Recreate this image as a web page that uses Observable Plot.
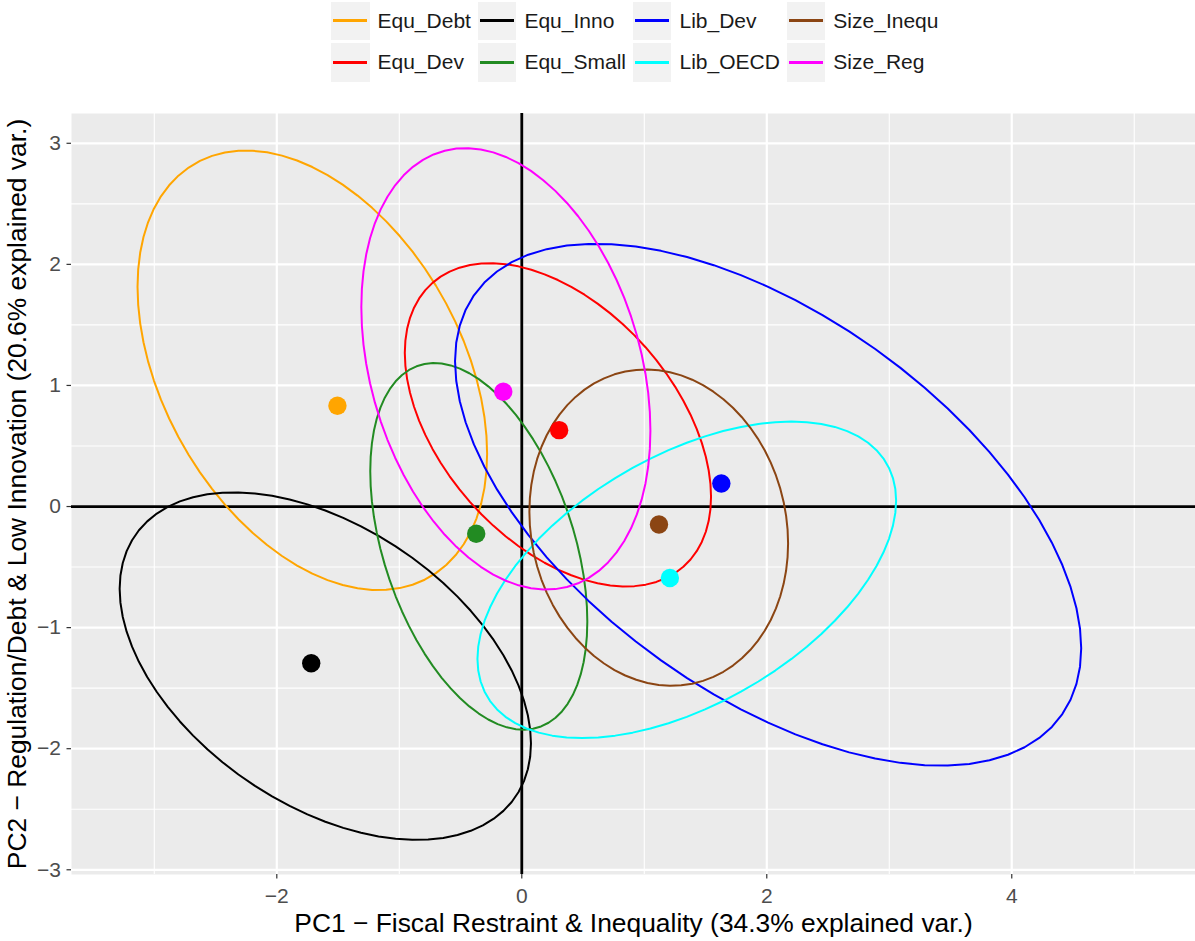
<!DOCTYPE html>
<html><head><meta charset="utf-8">
<script src="https://cdn.jsdelivr.net/npm/d3@7"></script>
<script src="https://cdn.jsdelivr.net/npm/@observablehq/plot@0.6"></script>
<style>
body{margin:0;background:#fff;font-family:"Liberation Sans",Arial,sans-serif;}
#wrap{position:relative;width:1195px;height:941px;overflow:hidden;background:#fff;}
#legend{position:absolute;left:331px;top:1.5px;display:grid;grid-template-rows:38.5px 38.5px;row-gap:3px;grid-auto-flow:column;grid-auto-columns:auto;}
.item{display:flex;align-items:center;}
.key{width:38.5px;height:38.5px;background:#f2f2f2;display:flex;align-items:center;justify-content:center;flex:none;}
.key span{display:block;width:34px;height:2.8px;}
.lab{font-size:21px;color:#1a1a1a;margin-left:8px;padding-right:7px;white-space:nowrap;}
#chart{position:absolute;left:0;top:88px;}
</style></head><body>
<div id="wrap"><div id="legend"></div><div id="chart"></div></div>
<script>
// Groups and colours
const groups = ["Equ_Debt","Equ_Dev","Equ_Inno","Equ_Small","Lib_Dev","Lib_OECD","Size_Inequ","Size_Reg"];
const colors = ["#FFA500","#FF0000","#000000","#228B22","#0000FF","#00FFFF","#8B4513","#FF00FF"];

// Group centroid points (PC1, PC2)
const pointX = [-1.505, 0.305, -1.719, -0.372, 1.629, 1.209, 1.12, -0.151];
const pointY = [0.832, 0.631, -1.294, -0.225, 0.19, -0.59, -0.148, 0.948];

// Ellipse parameters: centre, half-width (x), half-height (y), correlation
const ellCX = [-1.71, 0.295, -1.604, -0.351, 2.011, 1.347, 1.118, -0.13];
const ellCY = [1.125, 0.675, -1.318, -0.329, 0.015, -0.605, -0.174, 1.137];
const ellSX = [1.427, 1.25, 1.679, 0.886, 2.556, 1.709, 1.056, 1.18];
const ellSY = [1.815, 1.335, 1.435, 1.514, 2.155, 1.307, 1.306, 1.823];
const ellR  = [-0.38, -0.445, -0.445, -0.41, -0.55, 0.50, -0.10, -0.28];

// Axis ticks
const xMajor = [-2, 0, 2, 4];
const xMinor = [-3, -1, 1, 3, 5];
const yMajor = [-3, -2, -1, 0, 1, 2, 3];
const yMinor = [-2.5, -1.5, -0.5, 0.5, 1.5, 2.5];
const tickFmt = d => (d < 0 ? "\u2212" + Math.abs(d) : String(d));

const xTitle = "PC1 \u2212 Fiscal Restraint & Inequality (34.3% explained var.)";
const yTitle = "PC2 \u2212 Regulation/Debt & Low Innovation (20.6% explained var.)";

const points = groups.map((g, i) => ({group: g, x: pointX[i], y: pointY[i]}));
const nSeg = 72;
const ellipseRows = groups.flatMap((g, i) => d3.range(nSeg + 1).map(k => {
  const t = 2 * Math.PI * k / nSeg;
  return {
    group: g,
    x: ellCX[i] + ellSX[i] * Math.cos(t),
    y: ellCY[i] + ellSY[i] * (ellR[i] * Math.cos(t) + Math.sqrt(1 - ellR[i] * ellR[i]) * Math.sin(t))
  };
}));

// Legend
const legend = document.getElementById("legend");
groups.forEach((g, i) => {
  const item = document.createElement("div");
  item.className = "item";
  item.innerHTML = `<div class="key"><span style="background:${colors[i]}"></span></div><div class="lab">${g}</div>`;
  legend.appendChild(item);
});

const chart = Plot.plot({
  width: 1195, height: 853,
  marginLeft: 71, marginRight: 0, marginTop: 25, marginBottom: 67,
  x: {domain: [-3.676, 5.5]},
  y: {domain: [-3.039, 3.246]},
  color: {domain: groups, range: colors},
  style: {fontFamily: "'Liberation Sans', Arial, sans-serif", background: "white", overflow: "visible"},
  marks: [
    Plot.frame({fill: "#ebebeb", stroke: null}),
    Plot.gridX(xMinor, {stroke: "white", strokeOpacity: 1, strokeWidth: 1.1}),
    Plot.gridY(yMinor, {stroke: "white", strokeOpacity: 1, strokeWidth: 1.1}),
    Plot.gridX(xMajor, {stroke: "white", strokeOpacity: 1, strokeWidth: 2.2}),
    Plot.gridY(yMajor, {stroke: "white", strokeOpacity: 1, strokeWidth: 2.2}),
    Plot.axisX(xMajor, {tickSize: 4.5, tickPadding: 9, fontSize: 21, fill: "#4d4d4d", stroke: "#333333", strokeWidth: 1.2, label: null, tickFormat: tickFmt}),
    Plot.axisY(yMajor, {tickSize: 4.5, tickPadding: 6, fontSize: 21, fill: "#4d4d4d", stroke: "#333333", strokeWidth: 1.2, label: null, tickFormat: tickFmt}),
    Plot.ruleX([0], {stroke: "black", strokeWidth: 2.8}),
    Plot.ruleY([0], {stroke: "black", strokeWidth: 2.8}),
    Plot.line(ellipseRows, {x: "x", y: "y", z: "group", stroke: "group", strokeWidth: 2, curve: "linear"}),
    Plot.dot(points, {x: "x", y: "y", fill: "group", r: 9.2, stroke: null}),
    Plot.text([xTitle], {text: d => d, frameAnchor: "bottom", textAnchor: "middle", dy: 49, fontSize: 26.4, lineAnchor: "middle", fill: "black"}),
    Plot.text([yTitle], {text: d => d, frameAnchor: "left", textAnchor: "middle", rotate: -90, dx: -54.4, fontSize: 26.4, lineAnchor: "middle", fill: "black"})
  ]
});
document.getElementById("chart").appendChild(chart);
</script>
</body></html>
